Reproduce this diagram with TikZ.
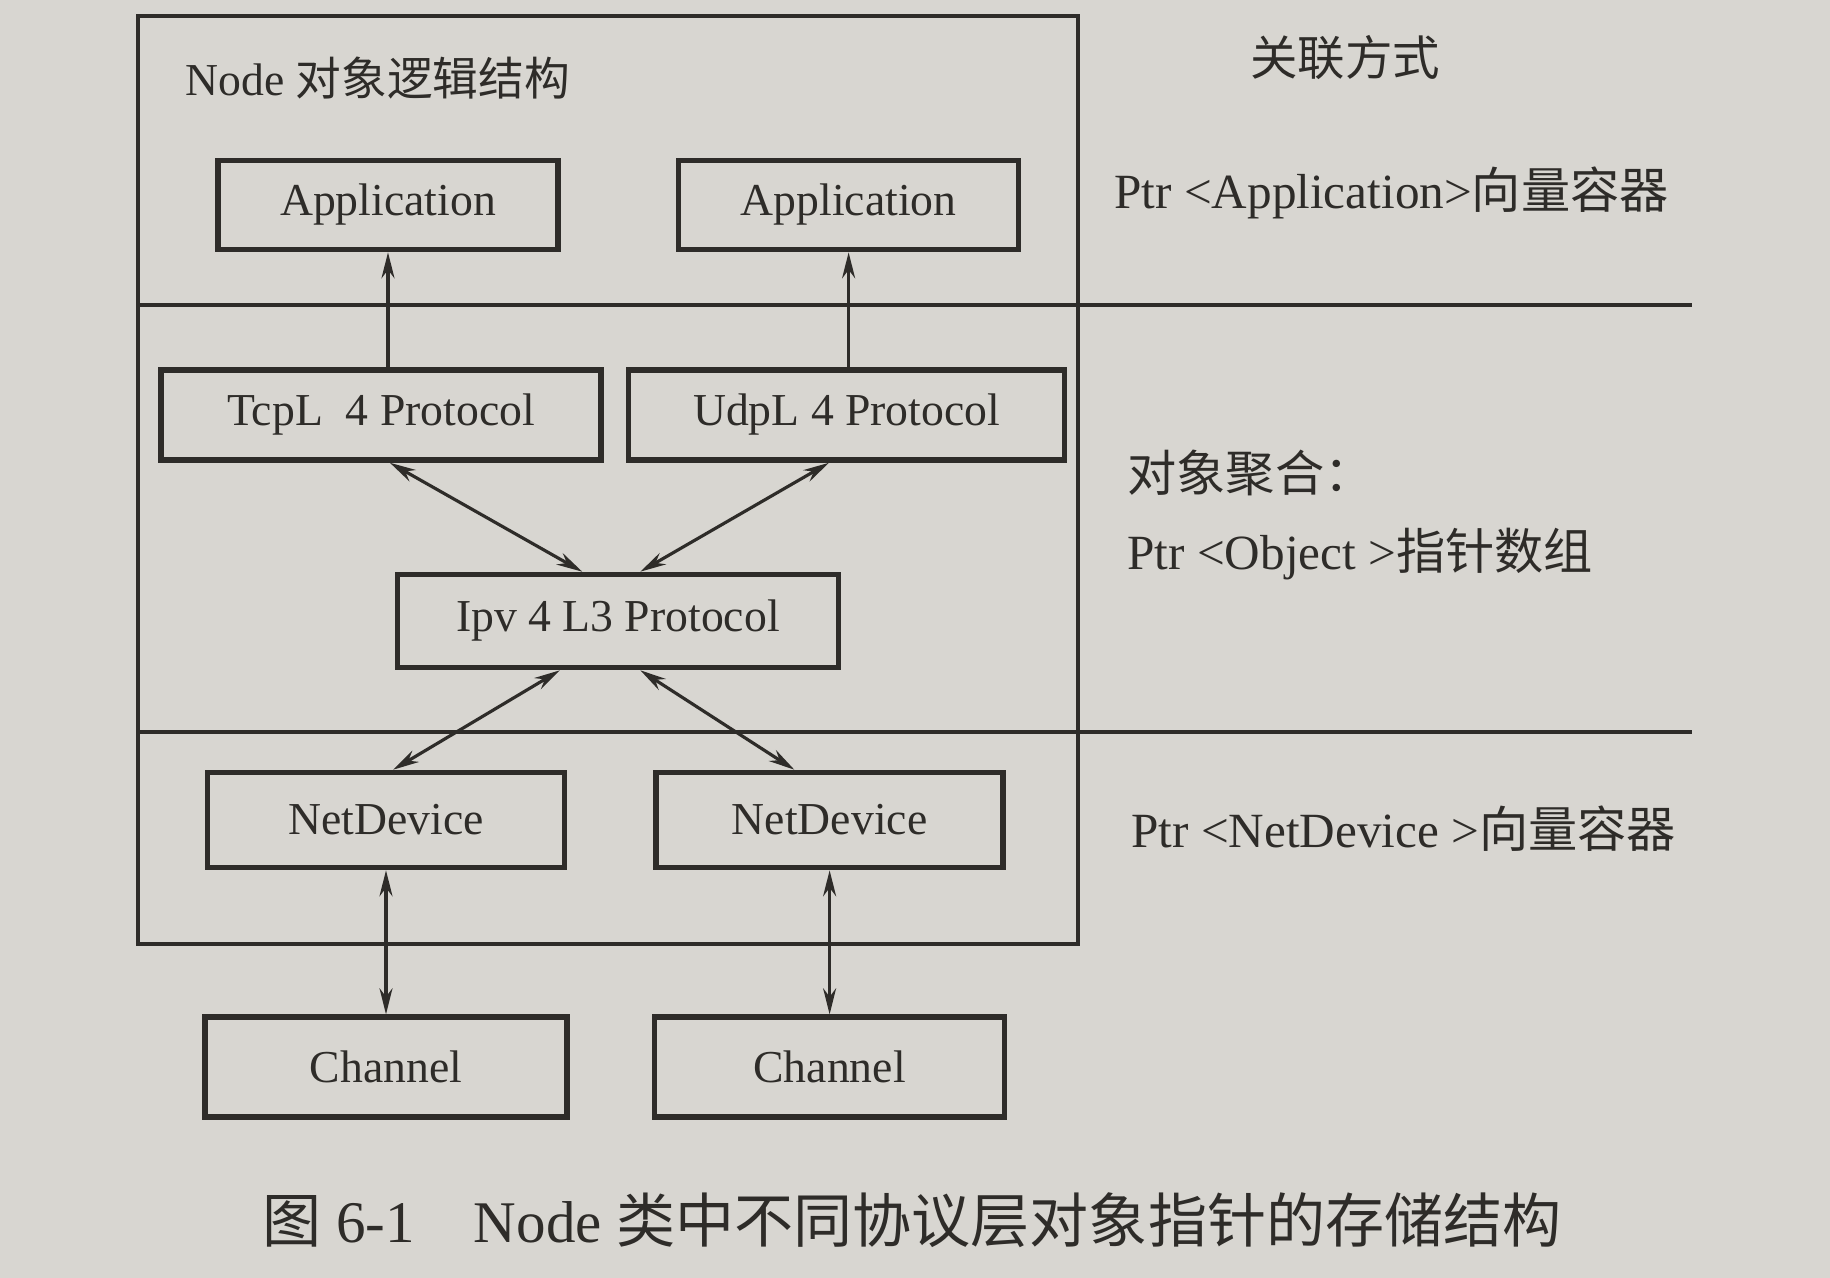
\documentclass[tikz,border=0pt]{standalone}
\usepackage{fontspec}
\setmainfont{Liberation Serif}
\newfontfamily\cjk{Noto Sans CJK SC}
\usepackage{xcolor}
\usetikzlibrary{arrows.meta, positioning, calc}
\definecolor{nspaper}{HTML}{D8D6D1}
\definecolor{nsink}{HTML}{2E2C29}
\tikzset{
  objbox/.style={draw=nsink,line width=1.6pt,inner sep=0pt,align=center},
  uplink/.style={nsink,line width=0.9pt,-{Stealth[length=2.6mm,width=1.3mm]}},
  duplink/.style={nsink,line width=0.9pt,{Stealth[length=2.6mm,width=1.3mm]}-{Stealth[length=2.6mm,width=1.3mm]}},
  sepline/.style={nsink,line width=1.2pt},
  sidelabel/.style={anchor=west,font=\fontsize{14}{17}\selectfont}
}

\begin{document}
\begin{tikzpicture}[x=0.1mm,y=-0.1mm,node distance=1.44cm,font=\fontsize{13}{16}\selectfont,text=nsink]
        \fill[nspaper] (0,0) rectangle (1830,1278);
        \useasboundingbox (0,0) rectangle (1830,1278);
        % Node frame and layer separators
        \draw[nsink,line width=1.4pt] (138,16) rectangle (1078,944);
        \draw[sepline] (138,305) -- (1692,305);
        \draw[sepline] (138,732) -- (1692,732);
        \node[anchor=west] (title) at (173,78) {Node {\cjk 对象逻辑结构}};
        % objects
        \node[objbox,minimum width=3.4cm,minimum height=0.89cm] (app1) at (388,205) {Application};
        \node[objbox,minimum width=3.4cm,minimum height=0.89cm,right=1.15cm of app1] (app2) {Application};
        \node[objbox,minimum width=4.4cm,minimum height=0.9cm] (tcp) at (381,415) {TcpL\ \ 4 Protocol};
        \node[objbox,minimum width=4.36cm,minimum height=0.9cm,right=0.22cm of tcp] (udp) {UdpL 4 Protocol};
        \node[objbox,minimum width=4.41cm,minimum height=0.93cm] (ipv) at (618,621) {Ipv 4 L3 Protocol};
        \node[objbox,minimum width=3.57cm,minimum height=0.95cm] (nd1) at (386,820) {NetDevice};
        \node[objbox,minimum width=3.47cm,minimum height=0.95cm,right=0.86cm of nd1] (nd2) {NetDevice};
        \node[objbox,minimum width=3.62cm,minimum height=1cm,below=of nd1] (ch1) {Channel};
        \node[objbox,minimum width=3.5cm,minimum height=1cm,below=of nd2] (ch2) {Channel};
        % association column
        \node[sidelabel,font=\fontsize{13.5}{16}\selectfont] (assoc) at (1238,58) {\cjk 关联方式};
        \node[sidelabel] (appvec) at (1102,193) {Ptr \textless Application\textgreater{\cjk 向量容器}};
        \node[sidelabel] (aggr) at (1115,473) {\cjk 对象聚合：};
        \node[sidelabel] (objarr) at (1115,554) {Ptr \textless Object \textgreater{\cjk 指针数组}};
        \node[sidelabel] (devvec) at (1119,829) {Ptr \textless NetDevice \textgreater{\cjk 向量容器}};
        \node[anchor=west,font=\fontsize{16.8}{20}\selectfont] (caption) at (250,1220) {{\cjk 图} 6-1\quad Node {\cjk 类中不同协议层对象指针的存储结构}};
        % connectors
        \draw[uplink] (tcp.north -| app1.south) -- (app1.south);
        \draw[uplink] (udp.north -| app2.south) -- (app2.south);
        \draw[duplink] ($(tcp.south west)!.52!(tcp.south east)$) -- ($(ipv.north west)!.42!(ipv.north east)$);
        \draw[duplink] ($(udp.south west)!.46!(udp.south east)$) -- ($(ipv.north west)!.55!(ipv.north east)$);
        \draw[duplink] ($(ipv.south west)!.37!(ipv.south east)$) -- ($(nd1.north west)!.52!(nd1.north east)$);
        \draw[duplink] ($(ipv.south west)!.55!(ipv.south east)$) -- ($(nd2.north west)!.40!(nd2.north east)$);
        \draw[duplink] (nd1) -- (ch1);
        \draw[duplink] (nd2) -- (ch2);
\end{tikzpicture}
\end{document}
